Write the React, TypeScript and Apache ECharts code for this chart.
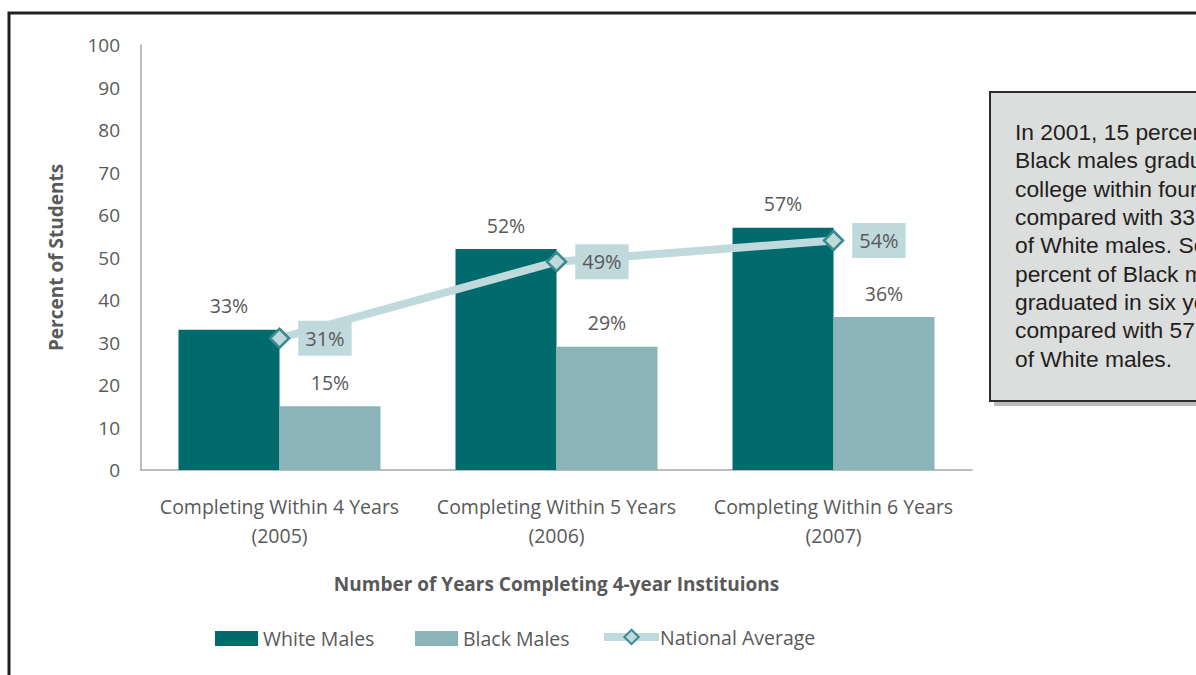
import React, { useEffect, useRef } from "react";
import * as echarts from "echarts";

const categories = ["Completing Within 4 Years\n(2005)", "Completing Within 5 Years\n(2006)", "Completing Within 6 Years\n(2007)"];
const whiteMales = [33, 52, 57];
const blackMales = [15, 29, 36];
const nationalAverage = [31, 49, 54];
const yTicks = { min: 0, max: 100, interval: 10 };
const noteLines = [
  "In 2001, 15 percent of",
  "Black males graduated from",
  "college within four years,",
  "compared with 33 percent",
  "of White males. Some 36",
  "percent of Black males",
  "graduated in six years,",
  "compared with 57 percent",
  "of White males.",
];

const FONT = "Open Sans";
const GREY = "#595959";

export default function App() {
  const ref = useRef<HTMLDivElement>(null);
  useEffect(() => {
    const chart = echarts.init(ref.current!, null, { renderer: "svg" });
    const legendText = { fontFamily: FONT, fontSize: 19.5, color: GREY };
    const barLabel = { show: true, position: "top", distance: 14, formatter: "{c}%", fontFamily: FONT, fontSize: 19.5, color: GREY };
    chart.setOption({
      animation: false,
      textStyle: { fontFamily: FONT },
      grid: { left: 141, right: 224, top: 45, bottom: 205 },
      legend: [
        {
          top: 628.5, left: 215, padding: 0, itemWidth: 43, itemHeight: 15, textStyle: legendText,
          data: [{ name: "White Males", icon: "rect" }],
        },
        {
          top: 628.5, left: 415, padding: 0, itemWidth: 43, itemHeight: 15, textStyle: legendText,
          data: [{ name: "Black Males", icon: "rect" }],
        },
        {
          top: 627, left: 600, padding: 0, itemWidth: 55, itemHeight: 18,
          textStyle: { ...legendText, padding: [0, 0, 0, -4] },
          data: [{ name: "National Average", lineStyle: { width: 8, color: "#bfd9dc" } }],
        },
      ],
      xAxis: {
        type: "category",
        data: categories,
        name: "Number of Years Completing 4-year Instituions",
        nameLocation: "middle",
        nameGap: 104,
        nameTextStyle: { fontFamily: FONT, fontSize: 19, fontWeight: "bold", color: GREY },
        axisLine: { lineStyle: { color: "#a6a6a6", width: 1.5 } },
        axisTick: { show: false },
        axisLabel: { interval: 0, fontFamily: FONT, fontSize: 19.5, color: GREY, lineHeight: 29, margin: 22 },
      },
      yAxis: {
        type: "value",
        min: yTicks.min,
        max: yTicks.max,
        interval: yTicks.interval,
        name: "Percent of Students",
        nameLocation: "middle",
        nameGap: 76,
        nameTextStyle: { fontFamily: FONT, fontSize: 19, fontWeight: "bold", color: GREY },
        axisLine: { show: true, lineStyle: { color: "#a6a6a6", width: 1.5 } },
        axisTick: { show: false },
        splitLine: { show: false },
        axisLabel: { fontFamily: FONT, fontSize: 19, color: GREY, margin: 21 },
      },
      series: [
        {
          name: "White Males",
          type: "bar",
          data: whiteMales,
          barWidth: 101,
          barGap: "0%",
          itemStyle: { color: "#006a6d" },
          label: barLabel,
        },
        {
          name: "Black Males",
          type: "bar",
          data: blackMales,
          barWidth: 101,
          barGap: "0%",
          itemStyle: { color: "#8ab4b8" },
          label: barLabel,
        },
        {
          name: "National Average",
          type: "line",
          data: nationalAverage,
          symbol: "diamond",
          symbolSize: 19,
          lineStyle: { color: "#bfd9dc", width: 8 },
          itemStyle: { color: "#bfd9dc", borderColor: "#3a8a8e", borderWidth: 2.5 },
          label: {
            show: true,
            position: "right",
            distance: 8,
            formatter: "{c}%",
            fontFamily: FONT,
            fontSize: 20,
            color: GREY,
            backgroundColor: "#bfd9dc",
            padding: [8, 7, 7, 7],
          },
          z: 5,
        },
      ],
      graphic: [
        {
          type: "rect",
          shape: { x: 9, y: 13, width: 1400, height: 900 },
          style: { fill: "none", stroke: "#231f20", lineWidth: 3 },
          silent: true,
        },
        {
          type: "rect",
          shape: { x: 994, y: 96, width: 400, height: 310 },
          style: { fill: "#777", opacity: 0.5 },
          silent: true,
        },
        {
          type: "rect",
          shape: { x: 990, y: 92, width: 400, height: 309 },
          style: { fill: "#dcdddd", stroke: "#2b2b2b", lineWidth: 2 },
          silent: true,
        },
        {
          type: "text",
          left: 1015,
          top: 118,
          style: {
            text: noteLines.join("\n"),
            fontFamily: "Liberation Sans",
            fontSize: 22.8,
            lineHeight: 28.3,
            fill: "#231f20",
          },
          silent: true,
        },
      ],
    });
    return () => chart.dispose();
  }, []);
  return <div ref={ref} style={{ position: "absolute", left: 0, top: 0, width: 1196, height: 675 }} />;
}
